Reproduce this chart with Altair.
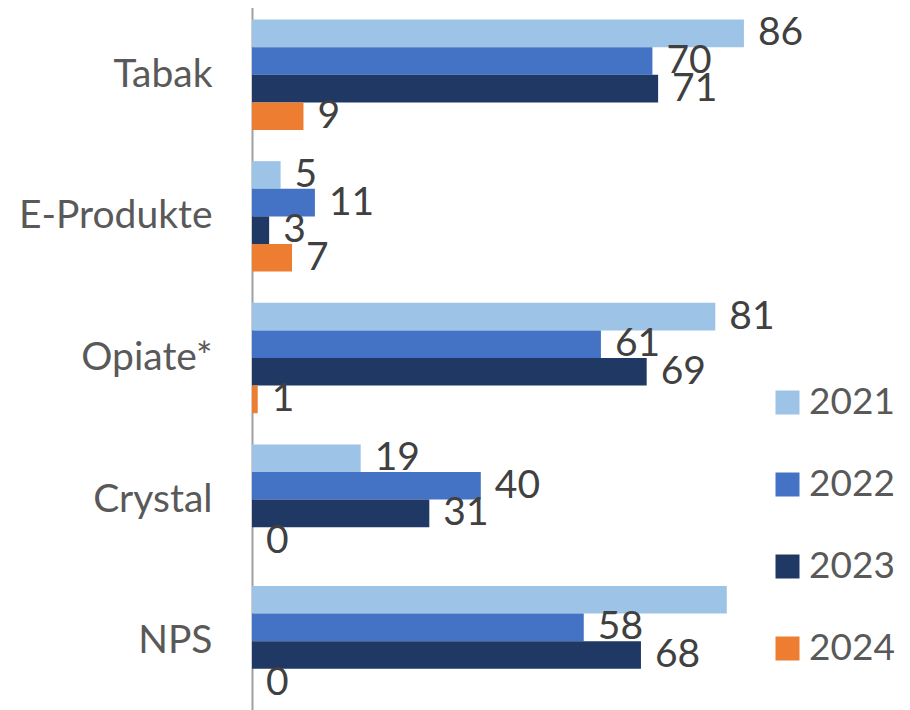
import altair as alt
import pandas as pd

categories = ["Tabak", "E-Produkte", "Opiate*", "Crystal", "NPS"]
years = ["2021", "2022", "2023", "2024"]
v2021 = [86, 5, 81, 19, 83]
v2022 = [70, 11, 61, 40, 58]
v2023 = [71, 3, 69, 31, 68]
v2024 = [9, 7, 1, 0, 0]
# the 2021 NPS label is not shown in the reference
show2021 = [True, True, True, True, False]

colors = ["#9DC3E6", "#4472C4", "#203864", "#ED7D31"]

rows = []
series = {"2021": v2021, "2022": v2022, "2023": v2023, "2024": v2024}
for yr in years:
    for i, c in enumerate(categories):
        val = series[yr][i]
        lab = str(val)
        if yr == "2021" and not show2021[i]:
            lab = ""
        rows.append({"Kategorie": c, "Jahr": yr, "Wert": val, "Label": lab})
df = pd.DataFrame(rows)

FONT = "Lato"

y_enc = alt.Y(
    "Kategorie:N",
    sort=categories,
    scale=alt.Scale(range=[-4, 704], paddingInner=0.22, paddingOuter=0.11),
    axis=alt.Axis(
        title=None, ticks=False, labelPadding=40, labelFontSize=39,
        labelColor="#595959", labelFont=FONT, domainColor="#A0A0A0",
        domainWidth=2, grid=False, labelLimit=400,
    ),
)
yoff = alt.YOffset("Jahr:N", sort=years, scale=alt.Scale(paddingInner=0, paddingOuter=0))
x_enc = alt.X("Wert:Q", scale=alt.Scale(domain=[0, 100]), axis=None)

bars = alt.Chart(df).mark_bar(strokeWidth=0).encode(
    y=y_enc,
    yOffset=yoff,
    x=x_enc,
    color=alt.Color(
        "Jahr:N",
        sort=years,
        scale=alt.Scale(domain=years, range=colors),
        legend=alt.Legend(
            title=None, orient="none", legendX=517, legendY=376,
            symbolType="square", symbolSize=576, symbolStrokeWidth=0,
            labelFontSize=37, labelFont=FONT, labelColor="#595959",
            labelOffset=3, rowPadding=44, padding=0, labelLimit=200,
        ),
    ),
)

labels = alt.Chart(df).mark_text(
    align="left", baseline="middle", dx=14, fontSize=39, font=FONT, color="#404040"
).encode(
    y=alt.Y("Kategorie:N", sort=categories),
    yOffset=alt.YOffset("Jahr:N", sort=years),
    x=alt.X("Wert:Q"),
    text="Label:N",
)

chart = alt.layer(bars, labels).properties(
    width=572, height=694,
    autosize=alt.AutoSizeParams(type="none"),
    padding={"left": 244, "top": 0, "right": 78, "bottom": 8},
).configure_view(stroke=None)

chart.save("out.html", embed_options={"renderer": "svg", "actions": False})
